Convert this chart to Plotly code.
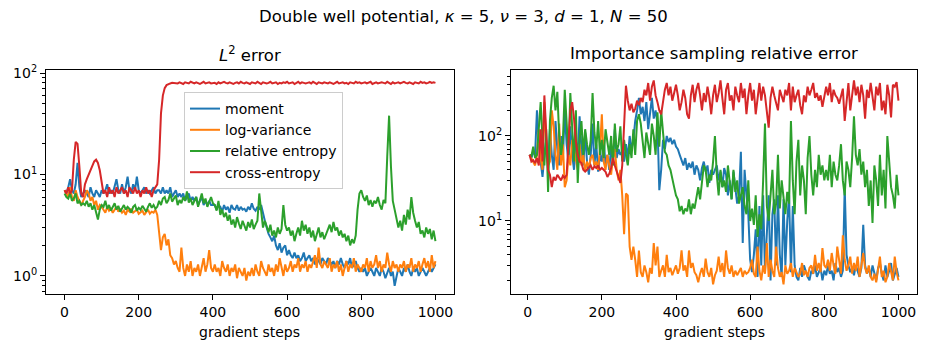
import plotly.graph_objects as go

# ---------------- data ----------------
steps_l2 = list(range(0, 1001, 5))
steps_is = list(range(5, 1001, 5))

l2_moment = [
    7.0, 6.5, 7.5, 9.0, 7.0, 6.5, 8.0, 13.0, 7.5, 6.0, 6.5,
    7.0, 6.5, 6.0, 7.5, 6.5, 6.0, 7.0, 6.5, 6.0, 7.0,
    6.5, 7.0, 8.0, 6.5, 7.0, 6.5, 7.5, 9.0, 7.0, 6.5, 8.0, 6.5, 7.5, 9.5, 7.0,
    6.5, 8.0, 7.0, 9.5, 7.0, 6.5, 7.0, 7.5, 6.5, 7.0, 6.5, 7.0, 7.5, 6.5, 7.0,
    7.0, 6.5, 7.5, 6.5, 7.0, 6.5, 7.5, 6.0, 6.5, 7.0, 6.0, 6.5, 6.0, 6.5, 5.5,
    6.0, 6.5, 5.5, 6.0, 5.5, 6.0, 5.0, 5.5, 6.0, 5.0, 5.5, 5.0, 5.5, 5.0, 5.0,
    5.0, 4.5, 5.0, 4.8, 4.3, 5.0, 4.5, 4.8, 4.2, 5.0, 4.6, 4.5, 5.0, 4.4, 4.8,
    4.5, 4.6, 4.3, 4.8, 4.5, 5.2, 4.6, 4.4, 4.8, 4.5, 5.0, 4.0, 3.5,
    3.0, 2.6, 2.4, 2.2, 2.5, 2.0, 1.8, 2.1, 1.7, 1.9, 2.0, 1.6,
    1.8, 1.6, 1.5, 1.7, 1.5, 1.6, 1.4, 1.5, 1.7, 1.4, 1.5, 1.6, 1.4, 1.5, 1.3,
    1.5, 1.4, 1.3, 1.5, 1.4,
    1.3, 1.5, 1.4, 1.3, 1.4, 1.2, 1.4, 1.3, 1.5, 1.3, 1.2, 1.4, 1.3, 1.5, 1.2,
    1.3, 1.4, 1.2, 1.1, 1.2,
    1.1, 1.2, 1.0, 1.1, 1.2, 1.1, 1.0, 1.2, 1.1, 1.0, 1.2, 1.1, 0.95, 1.1, 1.2,
    1.0, 1.1, 0.8, 1.0, 1.2, 1.1, 1.0, 1.2, 1.1, 1.3, 1.1, 1.0, 1.2, 1.1, 1.2,
    1.0, 1.1, 1.2, 1.1, 1.0, 1.1, 1.2, 1.1, 1.2, 1.3,
]

l2_logvar = [
    7.0, 6.5, 6.0, 7.5, 6.0, 5.5, 7.0, 6.0, 5.5, 5.0, 5.5,
    6.0, 7.0, 6.5, 5.5, 6.0, 5.0, 5.5, 4.5, 5.0, 4.8,
    4.5, 4.2, 4.8, 4.4, 4.6, 4.2, 4.5, 4.8, 4.3, 4.6, 4.2, 4.4, 4.0, 4.5, 4.3,
    4.6, 4.2, 4.4, 4.5, 4.1, 4.3, 4.4, 4.0, 4.2, 4.5, 4.1, 4.3, 4.2, 4.5, 4.0,
    2.5, 1.8, 2.4, 2.6, 2.0, 2.3, 1.6, 1.5, 1.3, 1.4,
    1.2, 1.1, 1.9, 1.2, 1.0, 1.3, 1.1, 1.4, 1.0, 1.2, 1.1, 1.3, 1.0, 1.2, 1.5,
    1.1, 1.3, 1.8, 1.2, 1.1,
    1.3, 1.1, 1.2, 1.0, 1.4, 1.2, 1.1, 1.3, 1.0, 1.2, 1.1, 1.3, 0.95, 1.2, 1.1,
    1.0, 1.2, 0.9, 1.1, 1.0,
    1.2, 1.0, 1.3, 1.1, 1.0, 1.4, 1.2, 1.1, 1.0, 1.3, 1.1, 1.2, 1.0, 1.3, 1.1,
    1.5, 1.2, 1.0, 1.3, 1.1,
    1.2, 1.4, 1.1, 1.3, 1.2, 1.5, 1.1, 1.3, 1.2, 1.4, 1.1, 1.3, 1.2, 1.4, 1.6,
    1.2, 1.9, 1.3, 1.2, 1.4,
    1.3, 1.2, 1.5, 1.1, 1.3, 1.2, 1.4, 1.1, 1.3, 1.0, 1.2, 1.4, 1.1, 1.3, 1.2,
    1.5, 1.1, 1.3, 1.2, 1.1,
    1.3, 1.2, 1.5, 1.1, 1.4, 1.2, 1.3, 1.6, 1.2, 1.4, 1.1, 1.3, 1.2, 1.7, 1.3,
    1.1, 1.4, 1.2, 1.3, 1.1,
    1.3, 1.2, 1.4, 1.1, 1.3, 1.2, 1.5, 1.1, 1.3, 1.2, 1.4, 1.1, 1.3, 1.5, 1.2,
    1.4, 1.1, 1.6, 1.2, 1.4,
]

l2_relent = [
    6.5, 6.0, 5.8, 6.5, 5.5, 5.8, 6.5, 5.2, 5.5, 5.0, 5.2,
    5.0, 5.5, 4.8, 5.2, 4.5, 5.0, 4.2, 3.6, 4.5, 5.0,
    4.8, 5.5, 4.6, 5.0, 4.4, 4.8, 5.2, 4.5, 4.9, 4.3, 4.7, 5.0, 4.5, 4.8, 4.6,
    4.2, 4.8, 5.0, 4.4, 4.7, 4.5, 4.9, 4.6, 4.3, 4.8, 5.2, 4.7, 5.0, 4.6, 4.8,
    5.5, 5.0, 5.8, 6.0, 5.2, 5.6, 6.5, 5.4, 5.8, 6.2, 5.0, 5.6, 5.2, 6.0, 5.5,
    6.8, 5.3, 5.8, 5.0, 5.6, 6.0, 4.8, 5.5, 6.5, 5.2, 5.8, 4.8, 5.5, 6.0, 5.2,
    5.0, 4.4, 5.5, 4.0, 4.5, 3.8, 4.2, 3.5, 4.0, 3.2, 3.6, 3.0, 3.8, 3.3, 2.9,
    3.5, 3.1, 2.8, 3.4, 3.0, 3.6, 2.9, 3.2, 3.5, 6.5, 4.0, 3.0, 3.5,
    3.0, 2.7, 3.2, 2.5, 2.8, 2.4, 3.0, 2.6, 2.9, 5.0, 3.2, 2.8,
    3.0, 2.5, 2.8, 2.2, 2.6, 3.0, 2.5, 3.5, 2.8, 3.2, 2.6, 3.0, 2.4, 2.8, 2.2,
    2.6, 3.0, 2.4, 2.7, 2.3,
    2.6, 2.9, 3.2, 2.7, 3.4, 2.8, 3.0, 2.5, 2.8, 2.4, 2.6, 2.2, 2.5, 2.0, 2.3,
    2.1, 2.5, 4.5, 6.5, 7.0,
    6.0, 5.5, 6.2, 5.0, 5.6, 4.8, 5.5, 5.2, 6.0, 5.0, 4.5, 5.6, 5.2, 15.0, 38.0,
    12.0, 5.5, 4.5, 3.5, 3.0,
    3.5, 2.8, 4.0, 3.2, 4.5, 3.6, 6.0, 4.2, 3.5, 3.0, 3.4, 2.6, 2.8, 2.4, 3.0,
    2.6, 2.9, 2.3, 2.8, 2.2,
]

l2_crossent = [
    7.0, 6.5, 7.5, 6.5, 7.0, 14.0, 21.0, 20.0, 12.0, 6.5, 6.0,
    8.0, 9.0, 10.0, 11.0, 12.0, 13.5, 14.0, 13.0, 11.0, 8.0,
    6.5, 7.0, 6.0, 7.5, 6.5, 7.0, 6.0, 7.5, 6.5, 7.0, 7.5, 6.5, 7.0, 6.0, 7.5,
    7.0, 6.5, 7.5, 6.5, 7.0, 6.0, 7.0, 6.5, 7.5, 6.5, 7.0, 6.0, 7.0, 7.5, 8.0,
    14.0, 40.0, 60.0, 71.0, 76.0, 78.0, 79.0, 80.0, 80.0, 79.0,
    79, 81, 80, 78, 81, 80, 79, 82, 80, 79, 81, 80, 78, 80, 82, 79, 80, 81, 79, 80,
    80, 78, 81, 79, 80, 82, 80, 79, 81, 80, 78, 80, 81, 79, 82, 80, 79, 81, 80, 78,
    81, 80, 79, 82, 80, 78, 81, 80, 79, 80, 82, 79, 80, 81, 78, 80, 79, 81, 80, 82,
    79, 80, 81, 78, 80, 82, 79, 81, 80, 79, 80, 81, 79, 82, 80, 78, 81, 80, 79, 81,
    80, 79, 81, 80, 78, 80, 82, 79, 80, 81, 79, 80, 78, 81, 80, 79, 82, 80, 81, 79,
    80, 81, 79, 80, 82, 78, 80, 81, 79, 80, 81, 80, 79, 82, 80, 78, 81, 79, 80, 81,
    79, 80, 82, 80, 79, 81, 80, 78, 81, 80, 79, 82, 80, 81, 79, 80, 82, 80, 81, 80,
]

is_moment = [
    60, 55, 65, 60, 200, 80, 50, 33, 60, 90, 45, 120, 60, 40, 150, 70, 45, 100, 55, 200,
    80, 50, 130, 60, 40, 90, 55, 170, 70, 45, 110, 50, 35, 60, 140, 45, 80, 38, 60, 50,
    90, 45, 60, 40, 75, 50, 120, 55, 70, 60, 65, 50, 80, 55, 100, 70, 90, 150, 200, 280,
    180, 220, 150, 250, 120, 180, 280, 160, 200, 140, 23, 40, 90, 70, 100, 85, 95, 80, 90, 75,
    70, 60, 50, 45, 55, 40, 48, 42, 50, 35, 45, 40, 30, 42, 50, 38, 45, 28, 40, 35,
    40, 45, 30, 38, 25, 42, 35, 20, 30, 18, 38, 25, 16, 20, 65, 5.5, 40, 20, 12, 3.5,
    2.5, 4, 8, 2.2, 15, 3, 20, 2.5, 6, 20, 2, 12, 18, 3, 20, 4, 2.2, 18, 3, 10,
    20, 2.5, 15, 3, 2.2, 2, 2.8, 2.2, 3, 2.5, 2.2, 2, 2.6, 2.4, 3, 2.2, 2.5, 2.8, 2, 2.6,
    2.3, 3, 2.4, 2.6, 2, 3.2, 2.5, 2.8, 2.2, 2.6, 25, 4, 3, 2.5, 2.8, 2.3, 3, 2.5, 2.2, 2.8,
    9, 3, 2.4, 2.8, 2.2, 3, 2.5, 2, 2.8, 3.2, 2.4, 2, 3, 2.2, 2.6, 3.2, 2, 2.4, 2.8, 2.2,
]

is_logvar = [
    60, 55, 50, 45, 60, 120, 55, 40, 250, 80, 45, 50, 200, 130, 60, 40, 140, 45, 80, 25,
    30, 60, 45, 90, 70, 50, 40, 80, 45, 60, 38, 50, 42, 55, 60, 45, 50, 40, 70, 180,
    50, 40, 60, 45, 35, 55, 70, 40, 30, 40, 20, 7, 21, 20, 5, 3.5, 5, 3.5, 2.2, 4.5,
    2.5, 2.2, 3, 2.5, 1.9, 2.8, 2.4, 5.5, 3, 5, 2.2, 2.6, 3, 2.2, 4, 2.5, 2.8, 2.3, 2.6, 3,
    2.4, 2.8, 4.5, 2.6, 3, 2.2, 4.5, 2.8, 3.2, 2.5, 2.3, 1.9, 2.4, 2.8, 2.2, 3.6, 2.5, 2.2, 2.8, 1.8,
    2.3, 2.6, 3.8, 2.5, 3.2, 2.2, 4.5, 2.8, 2.4, 3, 2.2, 2.6, 2.3, 2.5, 2.8, 2.2, 2.6, 2.4, 2.5, 2.8,
    3.5, 2.4, 2.2, 5, 2.6, 2, 3, 2.4, 5.5, 2.2, 3.5, 2.6, 2.2, 5, 2.8, 2.2, 2.5, 1.8, 3, 2.4,
    2.6, 3.2, 2.2, 2.8, 2.5, 2.2, 2.4, 3.2, 2.3, 2.6, 2.2, 2.8, 3, 2.4, 4, 2.6, 3.2, 2.5, 4.8, 3,
    2.8, 3.5, 2.6, 4.2, 3, 2.4, 5, 3.2, 2.4, 6.8, 3.5, 2.6, 3, 3.8, 2.4, 3.2, 2.6, 3.8, 2.2, 3,
    4.2, 2.8, 2.4, 3, 2.2, 2, 2.4, 1.9, 2.6, 3.8, 2.2, 2.6, 1.9, 2.2, 3.2, 2.4, 2, 3.8, 2.5, 2,
]

is_relent = [
    60, 58, 75, 55, 60, 130, 250, 90, 45, 120, 22, 150, 280, 390, 200, 330, 100, 60, 90, 350,
    120, 60, 320, 100, 50, 200, 28, 90, 150, 60, 120, 80, 60, 90, 320, 110, 70, 150, 60, 90,
    55, 120, 80, 60, 100, 45, 140, 65, 80, 130, 50, 90, 60, 45, 80, 55, 120, 60, 150, 180,
    140, 90, 55, 110, 80, 60, 140, 100, 60, 190, 75, 200, 110, 65, 60, 45, 40, 30, 25, 20,
    18, 13, 15, 12, 14, 13, 18, 12, 16, 14, 20, 25, 18, 30, 45, 40, 25, 35, 30, 50,
    100, 35, 20, 40, 25, 30, 22, 45, 30, 18, 40, 22, 30, 16, 20, 25, 15, 12, 30, 10,
    14, 9, 20, 6.5, 12, 8, 30, 140, 15, 10, 20, 40, 12, 16, 60, 14, 30, 18, 12, 22,
    16, 150, 30, 12, 50, 90, 20, 45, 30, 12, 55, 100, 35, 20, 40, 25, 60, 35, 45, 30,
    40, 30, 60, 25, 50, 35, 30, 45, 80, 30, 20, 50, 40, 25, 55, 170, 60, 45, 70, 35,
    50, 25, 40, 15, 30, 9.5, 45, 30, 15, 60, 20, 40, 14, 100, 50, 25, 20, 14, 35, 20,
]

is_crossent = [
    60, 50, 52, 48, 55, 45, 120, 50, 300, 90, 40, 35, 25, 33, 30, 35, 32, 30, 34, 32,
    35, 80, 200, 250, 160, 85, 60, 50, 48, 40, 38, 40, 42, 45, 40, 44, 42, 45, 40, 42,
    40, 38, 33, 36, 42, 55, 45, 38, 32, 28, 45, 170, 390, 260, 200, 240, 190, 210, 260, 230,
    280, 250, 350, 300, 420, 260, 380, 450, 300, 250, 200, 180, 250, 350, 420, 300, 380, 260, 320, 400,
    300, 200, 250, 350, 280, 180, 160, 300, 400, 250, 350, 420, 300, 200, 320, 250, 380, 280, 180, 300,
    400, 250, 320, 450, 280, 180, 350, 420, 260, 300, 200, 380, 300, 250, 420, 280, 360, 180, 300, 420,
    260, 350, 180, 300, 420, 260, 380, 300, 200, 125, 280, 380, 300, 250, 200, 350, 300, 250, 350, 300,
    420, 200, 380, 250, 300, 350, 230, 180, 300, 250, 380, 300, 350, 420, 280, 320, 260, 300, 220, 300,
    380, 300, 420, 250, 350, 300, 280, 240, 300, 360, 150, 280, 420, 200, 330, 450, 300, 380, 250, 400,
    300, 160, 350, 280, 420, 300, 200, 380, 300, 420, 200, 260, 180, 400, 300, 165, 400, 380, 430, 260,
]

series_names = ["moment", "log-variance", "relative entropy", "cross-entropy"]
colors = ["#1f77b4", "#ff7f0e", "#2ca02c", "#d62728"]
x_ticks = [0, 200, 400, 600, 800, 1000]
y_ticks_left = [1, 10, 100]
y_ticktext_left = ["10<sup>0</sup>", "10<sup>1</sup>", "10<sup>2</sup>"]
y_ticks_right = [10, 100]
y_ticktext_right = ["10<sup>1</sup>", "10<sup>2</sup>"]
minor_vals = [2, 3, 4, 5, 6, 7, 8, 9, 20, 30, 40, 50, 60, 70, 80, 90,
              200, 300, 400, 500, 600, 700, 800, 900, 0.7, 0.8, 0.9]

# ---------------- figure ----------------
W, H = 926, 343
FONT = "DejaVu Sans"
fig = go.Figure()

left_data = [l2_moment, l2_logvar, l2_relent, l2_crossent]
right_data = [is_moment, is_logvar, is_relent, is_crossent]

for name, col, ys in zip(series_names, colors, left_data):
    fig.add_trace(go.Scatter(x=steps_l2, y=ys, mode="lines", name=name,
                             line=dict(color=col, width=2),
                             xaxis="x", yaxis="y", showlegend=True))
for name, col, ys in zip(series_names, colors, right_data):
    fig.add_trace(go.Scatter(x=steps_is, y=ys, mode="lines", name=name,
                             line=dict(color=col, width=2),
                             xaxis="x2", yaxis="y2", showlegend=False))


def px_x(p):
    return p / W


def px_y(p):
    return 1 - p / H


axis_common = dict(showline=True, mirror=True, linecolor="black", linewidth=1.1,
                   ticks="outside", ticklen=5, tickwidth=1.1, tickcolor="black",
                   showgrid=False, zeroline=False, automargin=False,
                   tickfont=dict(family=FONT, size=14, color="black"))

minor_common = dict(ticks="outside", ticklen=3, tickwidth=0.8, tickcolor="black",
                    tickvals=minor_vals, showgrid=False)

fig.update_layout(
    width=W, height=H, autosize=False,
    margin=dict(l=0, r=0, t=0, b=0),
    paper_bgcolor="white", plot_bgcolor="white",
    font=dict(family=FONT, size=14, color="black"),
    xaxis=dict(domain=[px_x(46), px_x(454)], range=[-50, 1050], tickvals=x_ticks,
               anchor="y", **axis_common),
    yaxis=dict(domain=[px_y(294), px_y(70)], type="log", range=[-0.178, 2.03],
               tickvals=y_ticks_left, ticktext=y_ticktext_left, anchor="x",
               minor=minor_common, **axis_common),
    xaxis2=dict(domain=[px_x(511), px_x(917)], range=[-45, 1050], tickvals=x_ticks,
                anchor="y2", **axis_common),
    yaxis2=dict(domain=[px_y(294), px_y(70)], type="log", range=[0.141, 2.776],
                tickvals=y_ticks_right, ticktext=y_ticktext_right, anchor="x2",
                minor=minor_common, **axis_common),
    legend=dict(x=px_x(184), y=px_y(92), xanchor="left", yanchor="top",
                bgcolor="rgba(255,255,255,0.8)", bordercolor="#cccccc", borderwidth=1,
                font=dict(family=FONT, size=14, color="black"), itemwidth=30),
    annotations=[
        dict(text="Double well potential, <i>κ</i> = 5, <i>ν</i> = 3, <i>d</i> = 1, <i>N</i> = 50",
             x=0.5, y=px_y(16), xref="paper", yref="paper", showarrow=False,
             xanchor="center", yanchor="middle", font=dict(family=FONT, size=16.5)),
        dict(text="<i>L</i><sup>2</sup> error", x=px_x(250), y=px_y(54),
             xref="paper", yref="paper", showarrow=False, xanchor="center",
             yanchor="middle", font=dict(family=FONT, size=16.5)),
        dict(text="Importance sampling relative error", x=px_x(714), y=px_y(54),
             xref="paper", yref="paper", showarrow=False, xanchor="center",
             yanchor="middle", font=dict(family=FONT, size=16.5)),
        dict(text="gradient steps", x=px_x(250), y=px_y(332), xref="paper",
             yref="paper", showarrow=False, xanchor="center", yanchor="middle",
             font=dict(family=FONT, size=14)),
        dict(text="gradient steps", x=px_x(714), y=px_y(332), xref="paper",
             yref="paper", showarrow=False, xanchor="center", yanchor="middle",
             font=dict(family=FONT, size=14)),
    ],
)

fig.write_html("out.html", config={"displayModeBar": False},
               post_script="document.body.style.margin='0';document.body.style.overflow='hidden';")
